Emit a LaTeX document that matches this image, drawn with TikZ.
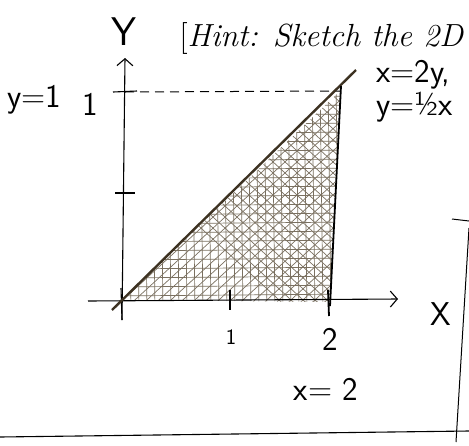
\documentclass[tikz,border=0pt]{standalone}
\usepackage{tikz}
\usetikzlibrary{calc,positioning,arrows.meta}
\definecolor{inkline}{HTML}{3D3222}
\definecolor{hatchink}{HTML}{7A7060}
\begin{document}
\begin{tikzpicture}[x=1pt,y=-1pt,
    hand/.style={font=\sffamily\fontsize{33}{33}\selectfont},
    eqtext/.style={font=\sffamily\fontsize{33}{33}\selectfont,inner sep=0pt,anchor=west},
    axis/.style={line width=1.1pt,-{Straight Barb[length=7pt,width=16pt]}},
    tickmark/.style={line width=1.1pt},
    hatch/.style={hatchink,line width=0.7pt}]
	\useasboundingbox (0,0) rectangle (469,445);
	% points of the sketch
	\coordinate (O) at (122,300);
	\coordinate (A) at (340,91);
	\coordinate (B) at (330,302);
	% shaded region
	\begin{scope}
		\clip (O) -- (A) -- (B) -- cycle;
		\foreach \i in {80,89,...,300} \draw[hatch] (110,\i) -- ++(250,-2);
		\foreach \i in {120,128,...,340} \draw[hatch] (\i,80) -- ++(3,230);
		\foreach \i in {-200,-188,...,340} \draw[hatch] (\i,310) -- ++(250,-230);
		\foreach \i in {40,52,...,600} \draw[hatch] (\i,80) -- ++(250,230);
	\end{scope}
	% axes
	\draw[axis] (88,301) -- (398,299);
	\draw[axis] (122,320) -- (125,58);
	\draw[tickmark] (113,92) -- (137,91);
	\draw[tickmark] (115,193) -- (135,193);
	\draw[tickmark] (121,288) -- (122,320);
	\draw[tickmark] (230,290) -- (230,310);
	\draw[line width=1.8pt] (328,290) -- (329,316);
	% lines of the region
	\draw[line width=1pt,dash pattern=on 9pt off 6pt] (125,92) -- (A);
	\draw[inkline,line width=2.4pt] (112,310) -- (356,70);
	\draw[line width=1.8pt] (341,86) -- (330,306);
	% labels
	\node[hand,font=\sffamily\fontsize{40}{40}\selectfont] (ylab) at (124,32) {Y};
	\node[hand] (xlab) at (441,314) {X};
	\node[eqtext] (eqa) at (376,75) {x=2y,};
	\node[eqtext,below=2pt of eqa.south west,anchor=north west] (eqb) {y=½x};
	\node[hand] (yone) at (34,100) {y=1};
	\node[hand] (yonetick) at (90,104) {1};
	\node[font=\sffamily\fontsize{22}{22}\selectfont] (xone) at (231,337) {1};
	\node[hand] (xtwo) at (330,339) {2};
	\node[hand] (linetwo) at (326,389) {x= 2};
	\node[anchor=base west,font=\fontsize{32}{32}\selectfont] (hint) at (176,46) {[\textit{Hint: Sketch the 2D}};
	% page edges
	\draw[line width=1.1pt] (0,437) -- (469,431);
	\draw[line width=1pt] (469,228) -- (456,442);
	\draw[line width=1pt] (452,219) -- (469,221);
\end{tikzpicture}
\end{document}
